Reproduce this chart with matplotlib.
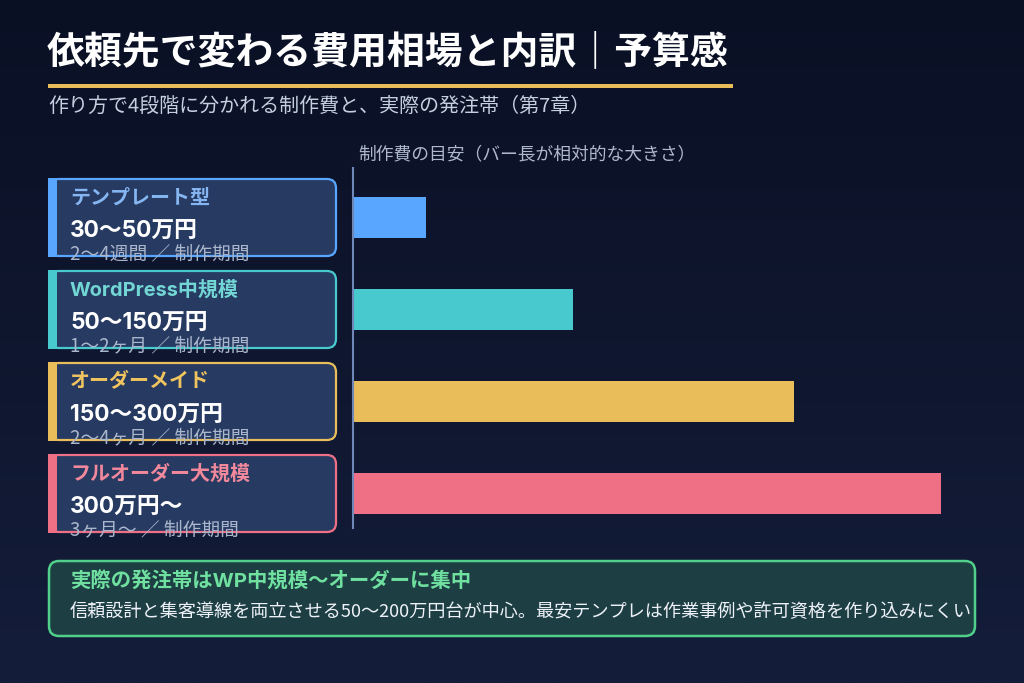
import matplotlib
matplotlib.use("Agg")
import matplotlib.pyplot as plt
import numpy as np
from matplotlib.patches import FancyBboxPatch, Rectangle
from matplotlib.colors import LinearSegmentedColormap

plt.rcParams['font.family'] = ['Noto Sans CJK JP', 'DejaVu Sans']
LATIN = ['Inter', 'Noto Sans CJK JP', 'DejaVu Sans']

# ---- data ----
categories = ["テンプレート型", "WordPress中規模", "オーダーメイド", "フルオーダー大規模"]
prices = ["30〜50万円", "50〜150万円", "150〜300万円", "300万円〜"]
periods = ["2〜4週間 ／ 制作期間", "1〜2ヶ月 ／ 制作期間", "2〜4ヶ月 ／ 制作期間", "3ヶ月〜 ／ 制作期間"]
bar_values = [40, 120, 240, 320]
bar_colors = ["#58a6ff", "#48c9cd", "#e8bd5a", "#ef6f85"]
name_colors = ["#86b6f2", "#72d6d4", "#f0c45e", "#f2889c"]

title = "依頼先で変わる費用相場と内訳｜予算感"
subtitle = "作り方で4段階に分かれる制作費と、実際の発注帯（第7章）"
axis_label = "制作費の目安（バー長が相対的な大きさ）"
note_title = "実際の発注帯はWP中規模〜オーダーに集中"
note_body = "信頼設計と集客導線を両立させる50〜200万円台が中心。最安テンプレは作業事例や許可資格を作り込みにくい"

W, H = 1024, 683
fig = plt.figure(figsize=(W / 100, H / 100), dpi=100)

# background gradient
bg = fig.add_axes([0, 0, 1, 1], zorder=0)
grad = np.linspace(0, 1, 256).reshape(-1, 1)
cmap = LinearSegmentedColormap.from_list("bg", ["#0a1024", "#141d3a"])
bg.imshow(grad, aspect="auto", cmap=cmap, extent=[0, 1, 0, 1], origin="upper")
bg.set_axis_off()

# overlay in pixel coordinates
ov = fig.add_axes([0, 0, 1, 1], zorder=1)
ov.set_xlim(0, W)
ov.set_ylim(H, 0)
ov.set_axis_off()
ov.patch.set_alpha(0)

# title
ov.text(47, 52, title, color="white", fontsize=27.3, fontweight="bold", va="center", ha="left")
ov.add_patch(Rectangle((48, 83.5), 685, 4, color="#e8bd5a", lw=0))
ov.text(48, 106, subtitle, color="#c5cfe2", fontsize=14.4, va="center", ha="left")
ov.text(358, 154, axis_label, color="#aeb9cf", fontsize=12.8, va="center", ha="left")

# cards
card_top0 = 179
card_h = 77
step = 92
for i in range(4):
    top = card_top0 + i * step
    box = FancyBboxPatch((50, top), 286, card_h,
                         boxstyle="round,pad=0,rounding_size=9",
                         facecolor="#263a62", edgecolor=bar_colors[i], lw=1.6)
    ov.add_patch(box)
    ov.add_patch(Rectangle((48, top - 0.8), 9, card_h + 1.6, color=bar_colors[i], lw=0))
    ov.text(70, top + 19, categories[i], color=name_colors[i], fontsize=14.4,
            fontweight="bold", va="center", ha="left", family=LATIN)
    ov.text(70, top + 52, prices[i], color="white", fontsize=16.4,
            fontweight="bold", va="center", ha="left", family=LATIN)
    ov.text(70, top + 75, periods[i], color="#aab6cc", fontsize=13.5,
            va="center", ha="left")

# note box
note = FancyBboxPatch((49, 561), 926, 75, boxstyle="round,pad=0,rounding_size=10",
                      facecolor="#1d3f44", edgecolor="#4fcf8a", lw=1.8)
ov.add_patch(note)
ov.text(70, 581, note_title, color="#6fe0a0", fontsize=14.7, fontweight="bold",
        va="center", ha="left", family=LATIN)
ov.text(70, 612, note_body, color="#eef2f8", fontsize=13.1, va="center", ha="left")

# bar chart axes
left, right, top, bottom = 353, 959, 168, 528
ax = fig.add_axes([left / W, 1 - bottom / H, (right - left) / W, (bottom - top) / H], zorder=2)
ax.patch.set_alpha(0)
y = np.arange(len(bar_values))
ax.barh(y, bar_values, height=0.45, color=bar_colors)
ax.set_xlim(0, 330)
ax.set_ylim(3.375, -0.538)
for s in ["top", "right", "bottom"]:
    ax.spines[s].set_visible(False)
ax.spines["left"].set_color("#7088b8")
ax.spines["left"].set_linewidth(1.5)
ax.set_xticks([])
ax.set_yticks([])

fig.savefig("out.png", dpi=100)
